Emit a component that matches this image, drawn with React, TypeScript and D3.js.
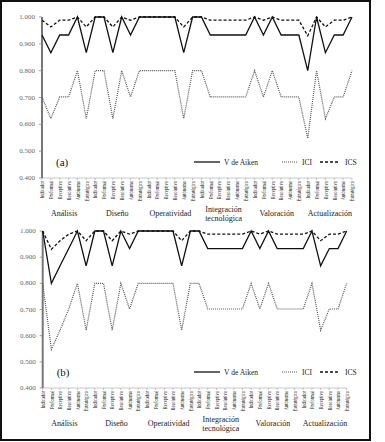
import React from 'react';
import * as d3 from 'd3';

const groups = ['Análisis', 'Diseño', 'Operatividad', 'Integración tecnológica', 'Valoración', 'Actualización'];
const items = ['Indicador', 'Preformal', 'Receptivo', 'Resolutivo', 'Autónomo', 'Estratégico'];
const yTicks = [0.4, 0.5, 0.6, 0.7, 0.8, 0.9, 1.0];

// panel (a)
const aikenA = [0.933, 0.867, 0.933, 0.933, 1, 0.867, 1, 1, 0.867, 1, 0.933, 1, 1, 1, 1, 1, 0.867, 1,
  1, 0.933, 0.933, 0.933, 0.933, 0.933, 1, 0.933, 1, 0.933, 0.933, 0.933, 0.8, 1, 0.867, 0.933, 0.933, 1];
const iciA = [0.702, 0.621, 0.702, 0.702, 0.8, 0.621, 0.8, 0.8, 0.621, 0.8, 0.702, 0.8, 0.8, 0.8, 0.8, 0.8, 0.621, 0.8,
  0.8, 0.702, 0.702, 0.702, 0.702, 0.702, 0.8, 0.702, 0.8, 0.702, 0.702, 0.702, 0.548, 0.8, 0.621, 0.702, 0.702, 0.8];
const icsA = [0.988, 0.963, 0.988, 0.988, 1, 0.963, 1, 1, 0.963, 1, 0.988, 1, 1, 1, 1, 1, 0.963, 1,
  1, 0.988, 0.988, 0.988, 0.988, 0.988, 1, 0.988, 1, 0.988, 0.988, 0.988, 0.93, 1, 0.963, 0.988, 0.988, 1];

// panel (b)
const aikenB = [1, 0.8, 0.867, 0.933, 1, 0.867, 1, 1, 0.867, 1, 0.933, 1, 1, 1, 1, 1, 0.867, 1,
  1, 0.933, 0.933, 0.933, 0.933, 0.933, 1, 0.933, 1, 0.933, 0.933, 0.933, 0.933, 1, 0.867, 0.933, 0.933, 1];
const iciB = [0.8, 0.548, 0.621, 0.702, 0.8, 0.621, 0.8, 0.8, 0.621, 0.8, 0.702, 0.8, 0.8, 0.8, 0.8, 0.8, 0.621, 0.8,
  0.8, 0.702, 0.702, 0.702, 0.702, 0.702, 0.8, 0.702, 0.8, 0.702, 0.702, 0.702, 0.702, 0.8, 0.621, 0.702, 0.702, 0.8];
const icsB = [1, 0.93, 0.963, 0.988, 1, 0.963, 1, 1, 0.963, 1, 0.988, 1, 1, 1, 1, 1, 0.963, 1,
  1, 0.988, 0.988, 0.988, 0.988, 0.988, 1, 0.988, 1, 0.988, 0.988, 0.988, 0.988, 1, 0.963, 0.988, 0.988, 1];

const FONT = '"Liberation Serif", "Times New Roman", serif';
const keys = groups.flatMap(g => items.map(it => g + '|' + it));

function Panel({tag, aiken, ici, ics, x0, x1, top, bottom}: any) {
  const x = d3.scalePoint().domain(keys).range([x0, x1]);
  const y = d3.scaleLinear().domain([0.4, 1]).range([bottom, top]);
  const line = d3.line<number>().x((_, i) => x(keys[i])!).y(d => y(d));

  const legendY = bottom - 16;
  const groupY = bottom + 38;

  return (
    <g>
      {/* x axis */}
      <line x1={x0} x2={x1} y1={bottom} y2={bottom} stroke="#bbb" strokeWidth={0.8}/>
      {keys.map(k => (
        <line key={k} x1={x(k)} x2={x(k)} y1={bottom} y2={bottom + 2} stroke="#999" strokeWidth={0.6}/>
      ))}
      {keys.map((k, i) => (
        <text key={'l' + k} transform={`translate(${x(k)},${bottom + 3}) rotate(-90) scale(0.78,1)`}
              textAnchor="end" dominantBaseline="central" fontSize={5.8} fill="#222">
          {items[i % items.length]}
        </text>
      ))}
      {groups.map(g => {
        const cx = d3.mean(items, it => x(g + '|' + it)!)!;
        const parts = g.split(' ');
        return (
          <text key={g} x={cx} y={parts.length > 1 ? groupY - 4 : groupY} textAnchor="middle" fontSize={8} fill="#222">
            {parts.map((p, pi) => <tspan key={p} x={cx} dy={pi ? 9 : 0}>{p}</tspan>)}
          </text>
        );
      })}

      {/* y axis */}
      <line x1={x0} x2={x0} y1={top} y2={bottom} stroke="#777" strokeWidth={2}/>
      {yTicks.map(t => (
        <g key={t}>
          <line x1={x0 - 3} x2={x0} y1={y(t)} y2={y(t)} stroke="#888" strokeWidth={0.8}/>
          <text x={x0 - 7} y={y(t)} textAnchor="end" dominantBaseline="central" fontSize={7} fill="#666">
            {d3.format('.3f')(t)}
          </text>
        </g>
      ))}

      <path d={line(ici)!} fill="none" stroke="#555" strokeWidth={1.2} strokeDasharray="1,1"/>
      <path d={line(aiken)!} fill="none" stroke="#111" strokeWidth={1.3}/>
      <path d={line(ics)!} fill="none" stroke="#111" strokeWidth={1.3} strokeDasharray="3,2"/>

      <text x={x0 + 14} y={bottom - 16} dominantBaseline="central" fontSize={11} fill="#111">{tag}</text>

      {/* legend */}
      <line x1={194} x2={220} y1={legendY} y2={legendY} stroke="#111" strokeWidth={1.3}/>
      <text x={224} y={legendY} dominantBaseline="central" fontSize={7.5} fill="#222">V de Aiken</text>
      <line x1={282} x2={297} y1={legendY} y2={legendY} stroke="#555" strokeWidth={1.2} strokeDasharray="1,1"/>
      <text x={302} y={legendY} dominantBaseline="central" fontSize={7.5} fill="#222">ICI</text>
      <line x1={320} x2={340} y1={legendY} y2={legendY} stroke="#111" strokeWidth={1.3} strokeDasharray="3,2"/>
      <text x={345} y={legendY} dominantBaseline="central" fontSize={7.5} fill="#222">ICS</text>
    </g>
  );
}

export default function App() {
  return (
    <svg width={385} height={442} style={{position: 'absolute', left: 0, top: 0, fontFamily: FONT}}>
      <rect width={385} height={442} fill="#fff"/>
      <Panel tag="(a)" aiken={aikenA} ici={iciA} ics={icsA} x0={42} x1={352} top={17} bottom={178}/>
      <Panel tag="(b)" aiken={aikenB} ici={iciB} ics={icsB} x0={42.7} x1={346.7} top={231} bottom={388}/>
      <rect x={1} y={1} width={369} height={439} fill="none" stroke="#111" strokeWidth={2}/>
    </svg>
  );
}
